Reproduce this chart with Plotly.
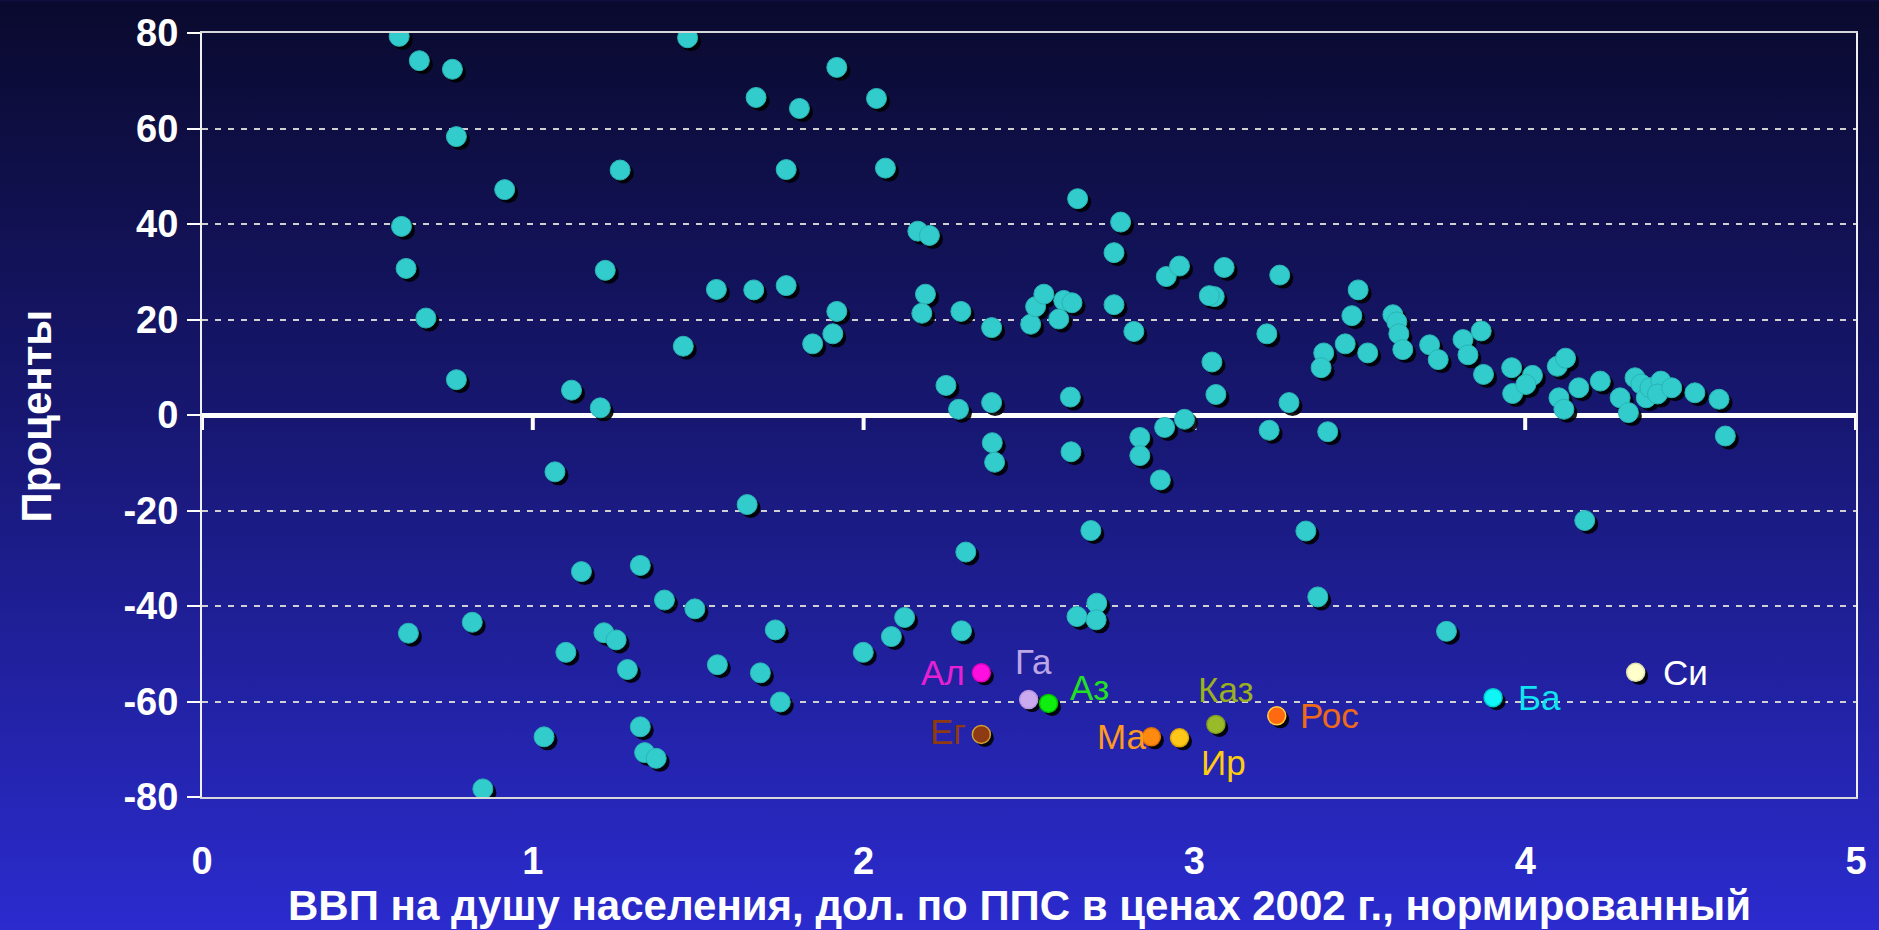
import base64
import plotly.graph_objects as go

# ---------------- data ----------------
gdp = [0.596, 0.657, 0.757, 0.769, 0.915, 1.264, 1.468, 0.603, 0.617, 1.219, 1.555, 0.677,
       1.455, 0.769, 1.117, 1.204, 1.919, 1.675, 1.806, 2.039, 1.766, 2.066, 2.647, 2.777,
       2.164, 2.199, 2.757, 1.668, 1.766, 2.187, 2.176, 2.294, 1.919, 1.907, 1.846, 2.387,
       2.505, 2.520, 2.545, 2.605, 2.590, 2.630, 2.757, 2.817, 2.915, 2.955, 3.090, 3.060,
       3.045, 2.249, 2.287, 2.387, 2.625, 3.053, 3.065, 2.970, 2.910, 3.258, 3.219, 3.495,
       3.476, 3.391, 3.383, 3.456, 3.524, 3.600, 3.612, 3.618, 3.630, 3.711, 3.737, 3.812,
       3.867, 3.827, 3.874, 3.959, 4.022, 3.962, 4.002, 4.097, 4.122, 4.102, 4.117, 4.162,
       4.227, 4.287, 4.312, 4.332, 4.350, 4.366, 4.377, 4.410, 4.400, 4.443, 4.513, 4.586,
       3.286, 3.226, 3.403, 4.605, 4.180, 3.762, 3.373, 3.337,
       1.067, 1.147, 1.325, 1.398, 1.490, 0.817, 0.624, 1.215, 1.252, 1.100, 1.286, 1.558,
       1.325, 1.338, 1.373, 1.034, 0.849, 1.648, 2.309, 2.687, 2.389, 2.396, 2.627, 2.835,
       2.835, 2.897, 2.705, 2.645, 2.703, 2.124, 2.084, 1.999, 2.296, 1.733, 1.688, 1.748]
change = [79.3, 74.2, 72.4, 58.3, 47.2, 51.3, 79.0, 39.5, 30.7, 30.3, 26.3, 20.3,
          14.4, 7.4, 5.2, 1.5, 72.8, 66.5, 64.2, 66.3, 51.4, 51.7, 45.3, 40.4,
          38.5, 37.6, 34.0, 26.2, 27.1, 25.3, 21.3, 21.7, 21.7, 17.0, 14.9, 18.3,
          19.0, 22.7, 25.3, 24.0, 20.1, 23.5, 23.1, 17.5, 29.0, 31.2, 30.9, 24.8,
          25.0, 6.2, 1.2, 2.6, 3.75, 11.1, 4.3, -0.9, -2.6, 29.3, 17.0, 26.2,
          20.8, 13.0, 9.9, 14.9, 13.0, 21.0, 19.5, 17.0, 13.7, 14.7, 11.6, 15.8,
          17.6, 12.6, 8.5, 9.9, 8.3, 4.5, 6.4, 10.2, 11.9, 3.6, 1.2, 5.7,
          7.1, 3.6, 0.5, 7.8, 6.5, 3.6, 5.7, 7.1, 4.4, 5.7, 4.65, 3.3,
          2.6, -3.2, -3.5, -4.4, -22.1, -45.3, -38.1, -24.3,
          -11.9, -32.8, -31.5, -38.75, -40.6, -43.4, -45.7, -45.6, -47.1, -49.7, -53.3, -52.3,
          -65.3, -70.7, -71.9, -67.4, -78.3, -18.75, -28.7, -24.2, -5.8, -9.9, -7.7, -4.7,
          -8.5, -13.6, -39.4, -42.2, -42.9, -42.4, -46.4, -49.7, -45.2, -45.0, -54.0, -60.1]

country_names = ["Ал", "Га", "Аз", "Ег", "Ма", "Ир", "Каз", "Рос", "Ба", "Си"]
country_gdp = [2.356, 2.499, 2.559, 2.356, 2.870, 2.955, 3.065, 3.249, 3.903, 4.334]
country_change = [-54.0, -59.6, -60.4, -66.9, -67.4, -67.6, -64.8, -63.0, -59.2, -53.9]

x_tick_vals = [0, 1, 2, 3, 4, 5]
x_tick_text = ["0", "1", "2", "3", "4", "5"]
y_tick_vals = [80, 60, 40, 20, 0, -20, -40, -60, -80]
y_tick_text = ["80", "60", "40", "20", "0", "-20", "-40", "-60", "-80"]

x_title = "ВВП на душу населения, дол. по ППС в ценах 2002 г., нормированный"
y_title = "Проценты"

# ---------------- styles ----------------
W, H = 1879, 930
ML, MR, MT, MB = 202, 14, 30, 133
PW, PH = W - ML - MR, H - MT - MB
FONT = "Liberation Sans, Arial, sans-serif"

country_fill = ["#FF10E0", "#CCAAEE", "#10EE10", "#8E3A12", "#FF8A10",
                "#FFC71A", "#99BB2A", "#FF6A10", "#10F5F5", "#FFFFCC"]
country_line = ["#E000C0", "#B898E0", "#00C000", "#D4A030", "#E07000",
                "#E0A800", "#80A020", "#FFD040", "#00D0D0", "#E0E0B0"]
label_color = ["#E820D4", "#BCA6E6", "#22E022", "#8E3A12", "#FF9A20",
               "#FFCC10", "#9AB020", "#EE6A18", "#10E4F0", "#FFFFFF"]
# label placement: (xanchor, xshift px, yshift px)
label_pos = [("right", -14, 0), ("center", 5, 38), ("left", 19, 16), ("right", -13, 3),
             ("right", -2, 0), ("center", 44, -25), ("center", 10, 35), ("left", 21, 0),
             ("left", 23, 0), ("left", 25, 0)]

# shadow offset (pixels converted to data units)
dx = 3.5 * 5 / PW
dy = 3.5 * 160 / PH

fig = go.Figure()

fig.add_trace(go.Scatter(
    x=[v + dx for v in gdp], y=[v - dy for v in change], mode="markers",
    marker=dict(size=20, color="rgba(0,0,0,0.9)", line=dict(width=0)),
    hoverinfo="skip", showlegend=False))
fig.add_trace(go.Scatter(
    x=gdp, y=change, mode="markers",
    marker=dict(size=20, color="#33CCCC", line=dict(width=1, color="#28B4B4")),
    showlegend=False))
fig.add_trace(go.Scatter(
    x=[v + dx for v in country_gdp], y=[v - dy for v in country_change], mode="markers",
    marker=dict(size=18, color="rgba(0,0,0,0.9)", line=dict(width=0)),
    hoverinfo="skip", showlegend=False))
fig.add_trace(go.Scatter(
    x=country_gdp, y=country_change, mode="markers", text=country_names,
    marker=dict(size=18, color=country_fill, line=dict(width=1.5, color=country_line)),
    showlegend=False))

annotations = []
for name, xv, yv, col, (xa, xs, ys) in zip(country_names, country_gdp, country_change,
                                           label_color, label_pos):
    annotations.append(dict(x=xv, y=yv, xref="x", yref="y", text=name, showarrow=False,
                            xanchor=xa, yanchor="middle", xshift=xs, yshift=ys,
                            font=dict(family=FONT, size=35, color=col)))

annotations.append(dict(text=y_title, xref="paper", yref="paper",
                        x=(36 - ML) / PW, y=(MT + PH - 415) / PH, textangle=-90,
                        showarrow=False, xanchor="center", yanchor="middle",
                        font=dict(family=FONT, size=42, color="white", weight="bold")))
annotations.append(dict(text=x_title, xref="paper", yref="paper",
                        x=(1024 - ML) / PW, y=(MT + PH - 906) / PH,
                        showarrow=False, xanchor="center", yanchor="middle",
                        font=dict(family=FONT, size=42, color="white", weight="bold")))

# tick marks hanging under the zero line
shapes = []
for tv in x_tick_vals:
    shapes.append(dict(type="line", xref="x", yref="y", ysizemode="pixel", yanchor=0,
                       x0=tv, x1=tv, y0=0, y1=-15, line=dict(color="white", width=4),
                       layer="below"))

svg = (f'<svg xmlns="http://www.w3.org/2000/svg" width="{W}" height="{H}" '
       f'preserveAspectRatio="none" viewBox="0 0 {W} {H}"><defs>'
       '<linearGradient id="g" x1="0" y1="0" x2="0" y2="1">'
       '<stop offset="0" stop-color="#0A0A2E"/>'
       '<stop offset="0.45" stop-color="#171772"/>'
       '<stop offset="1" stop-color="#2B2BCF"/>'
       '</linearGradient></defs>'
       f'<rect width="{W}" height="{H}" fill="url(#g)"/></svg>')
bg_src = "data:image/svg+xml;base64," + base64.b64encode(svg.encode()).decode()

pad = 20
fig.update_layout(
    width=W, height=H,
    margin=dict(l=ML, r=MR, t=MT, b=MB, pad=0),
    paper_bgcolor="#0E0E40", plot_bgcolor="rgba(0,0,0,0)",
    images=[dict(source=bg_src, xref="paper", yref="paper",
                 x=-(ML + pad) / PW, y=(PH + MT + 2) / PH,
                 sizex=(W + 2 * pad) / PW, sizey=(H + 4) / PH, sizing="stretch",
                 xanchor="left", yanchor="top", layer="below")],
    annotations=annotations, shapes=shapes, showlegend=False,
    xaxis=dict(range=[0, 5], tickvals=x_tick_vals, ticktext=x_tick_text,
               showgrid=False, zeroline=False, showline=True, linecolor="#D8D8D8",
               linewidth=2, mirror=True, ticks="", ticklabelstandoff=29,
               tickfont=dict(family=FONT, size=38, color="white", weight="bold")),
    yaxis=dict(range=[-80, 80], tickvals=y_tick_vals, ticktext=y_tick_text,
               showgrid=True, gridcolor="#D0D0D0", gridwidth=2, griddash="6px,7px",
               zeroline=True, zerolinecolor="white", zerolinewidth=5,
               showline=True, linecolor="#F0F0F0", linewidth=2, mirror=True,
               ticks="outside", ticklen=13, tickwidth=2, tickcolor="white",
               ticklabelstandoff=1,
               tickfont=dict(family=FONT, size=38, color="white", weight="bold")),
)

fig.write_html("out.html", config=dict(displayModeBar=False),
               post_script="document.body.style.margin='0';document.body.style.overflow='hidden';")
